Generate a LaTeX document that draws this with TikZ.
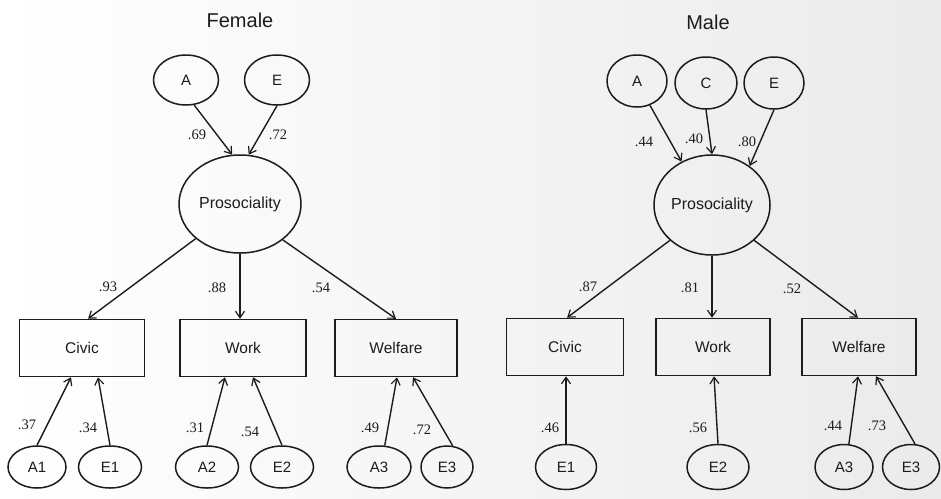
\documentclass[tikz,border=0pt]{standalone}
\usepackage{fontspec}
\setmainfont{Liberation Serif}
\newfontfamily\arialf{Liberation Sans}
\usetikzlibrary{shapes.geometric,arrows.meta,calc}
\definecolor{ink}{HTML}{1C1C1C}
\tikzset{
  latent/.style={ellipse,draw=ink,line width=1.5pt,inner sep=0pt,font=\arialf\fontsize{15}{17}\selectfont,text=ink},
  observed/.style={rectangle,draw=ink,line width=1.5pt,inner sep=0pt,minimum height=57pt,font=\arialf\fontsize{15.5}{18}\selectfont,text=ink},
  path/.style={draw=ink,line width=1.4pt,-{Straight Barb[length=6.5pt,width=9pt,line width=1.2pt]}},
  coef/.style={font=\fontsize{14.5}{16}\selectfont,text=ink,inner sep=0pt},
  title/.style={font=\arialf\fontsize{20}{24}\selectfont,text=ink}
}
\begin{document}
\begin{tikzpicture}[x=1pt,y=-1pt]
\useasboundingbox (0,0) rectangle (941,498);
\shade[left color=white,right color=black!8] (0,0) rectangle (941,498);

% ---------------- Female model ----------------
\node[title] (tF) at (240,20) {Female};
\node[latent,minimum width=65pt,minimum height=50pt] (aF) at (186,80) {A};
\node[latent,minimum width=65pt,minimum height=50pt] (eF) at (277,80) {E};
\node[latent,minimum width=122pt,minimum height=98pt,font=\arialf\fontsize{16}{18}\selectfont] (pF) at (240,204) {Prosociality};
\node[observed,minimum width=125pt] (civF) at (82,348) {Civic};
\node[observed,minimum width=126pt] (wrkF) at (243,348) {Work};
\node[observed,minimum width=122pt] (welF) at (396,348) {Welfare};
\node[latent,minimum width=58pt,minimum height=42pt] (a1F) at (37,467) {A1};
\node[latent,minimum width=63pt,minimum height=42pt] (e1F) at (110,467) {E1};
\node[latent,minimum width=63pt,minimum height=42pt] (a2F) at (207,467) {A2};
\node[latent,minimum width=63pt,minimum height=42pt] (e2F) at (282,467) {E2};
\node[latent,minimum width=64pt,minimum height=42pt] (a3F) at (379,467) {A3};
\node[latent,minimum width=52pt,minimum height=42pt] (e3F) at (447,467) {E3};

\draw[path] (aF.-72) -- (pF.99);
\draw[path] (eF.south) -- (pF.80);
\draw[path] (pF.218) -- ([xshift=6pt]civF.north);
\draw[path] (pF.south) -- (wrkF.north -| pF.south);
\draw[path] (pF.-40) -- (welF.north);
\draw[path] (a1F.north) -- ([xshift=-11pt]civF.south);
\draw[path] (e1F.north) -- ([xshift=16pt]civF.south);
\draw[path] (a2F.north) -- ([xshift=-18pt]wrkF.south);
\draw[path] (e2F.north) -- ([xshift=10pt]wrkF.south);
\draw[path] (a3F.75) -- ([xshift=1pt]welF.south);
\draw[path] (e3F.75) -- ([xshift=17pt]welF.south);

\node[coef] (cAF) at (197,135) {.69};
\node[coef] (cEF) at (278,135) {.72};
\node[coef] (cCivF) at (108,287) {.93};
\node[coef] (cWrkF) at (217,288) {.88};
\node[coef] (cWelF) at (321,288) {.54};
\node[coef] (cA1F) at (27,425) {.37};
\node[coef] (cE1F) at (88,428) {.34};
\node[coef] (cA2F) at (195,428) {.31};
\node[coef] (cE2F) at (250,432) {.54};
\node[coef] (cA3F) at (370,428) {.49};
\node[coef] (cE3F) at (422,430) {.72};

% ---------------- Male model ----------------
\node[title] (tM) at (708,22) {Male};
\node[latent,minimum width=60pt,minimum height=52pt] (aM) at (637,81) {A};
\node[latent,minimum width=62pt,minimum height=52pt] (cM) at (706,83) {C};
\node[latent,minimum width=60pt,minimum height=52pt] (eM) at (774,83) {E};
\node[latent,minimum width=116pt,minimum height=100pt,font=\arialf\fontsize{16}{18}\selectfont] (pM) at (712,205) {Prosociality};
\node[observed,minimum width=117pt] (civM) at (565,347) {Civic};
\node[observed,minimum width=114pt] (wrkM) at (713,347) {Work};
\node[observed,minimum width=114pt] (welM) at (859,347) {Welfare};
\node[latent,minimum width=61pt,minimum height=45pt] (e1M) at (566,467) {E1};
\node[latent,minimum width=62pt,minimum height=45pt] (e2M) at (718,467) {E2};
\node[latent,minimum width=58pt,minimum height=45pt] (a3M) at (844,467) {A3};
\node[latent,minimum width=57pt,minimum height=45pt] (e3M) at (911,467) {E3};

\draw[path] (aM.-62) -- (pM.125);
\draw[path] (cM.south) -- (pM.north);
\draw[path] (eM.south) -- (pM.46);
\draw[path] (pM.220) -- ([xshift=2pt]civM.north);
\draw[path] (pM.south) -- (wrkM.north -| pM.south);
\draw[path] (pM.-40) -- ([xshift=-1pt]welM.north);
\draw[path] (e1M.north) -- (civM.south -| e1M.north);
\draw[path] (e2M.north) -- ([xshift=1pt]wrkM.south);
\draw[path] (a3M.78) -- ([xshift=-1pt]welM.south);
\draw[path] (e3M.80) -- ([xshift=17pt]welM.south);

\node[coef] (cAM) at (644,142) {.44};
\node[coef] (cCM) at (694,139) {.40};
\node[coef] (cEM) at (747,142) {.80};
\node[coef] (cCivM) at (588,287) {.87};
\node[coef] (cWrkM) at (690,288) {.81};
\node[coef] (cWelM) at (792,289) {.52};
\node[coef] (cE1M) at (550,428) {.46};
\node[coef] (cE2M) at (698,428) {.56};
\node[coef] (cA3M) at (833,426) {.44};
\node[coef] (cE3M) at (877,426) {.73};
\end{tikzpicture}
\end{document}
